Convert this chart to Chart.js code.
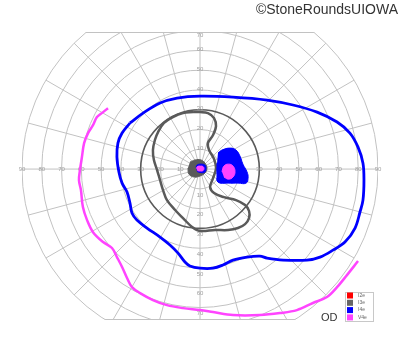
<!DOCTYPE html>
<html>
<head>
<title>Goldmann Visual Field OD</title>
<script src="https://cdn.jsdelivr.net/npm/chart.js"></script>
<style>
  body { margin: 0; background: #fff; }
</style>
</head>
<body>
<canvas id="fieldChart" width="400" height="352"></canvas>
<script>
// isopters in degrees of eccentricity: x = + right, y = + up
const v4eOuter = [[-46.5,30.8],[-49.0,28.8],[-52.1,26.3],[-54.1,22.2],[-56.6,18.2],[-58.6,13.1],[-59.7,6.1],[-60.7,-0.5],[-61.2,-5.6],[-60.2,-10.6],[-59.2,-19.2],[-57.1,-25.8],[-54.1,-31.9],[-49.0,-36.9],[-44.5,-39.9],[-42.0,-44.5],[-39.4,-49.5],[-36.9,-55.1],[-34.4,-59.7],[-30.3,-62.7],[-23.8,-66.2],[-16.7,-68.8],[-8.6,-70.3],[0,-71.3],[6.6,-72.3],[16.7,-73.8],[30.3,-73.8],[40.4,-72.8],[49.0,-71.3],[57.1,-67.7],[64.2,-64.7],[69.3,-59.7],[74.3,-53.6],[79.9,-46.5]];

const i4eOuter = [[-35.4,23.3],[-28.8,28.3],[-20.2,33.4],[-11.6,35.9],[0,36.9],[16.7,36.4],[33.9,34.9],[47.0,32.4],[59.2,28.8],[69.3,23.8],[75.8,18.2],[79.9,11.1],[82.4,3.0],[82.9,-5.6],[82.4,-15.7],[80.9,-21.7],[78.4,-29.8],[73.3,-36.9],[67.2,-41.0],[60.7,-44.5],[54.1,-46.0],[42.0,-46.0],[33.9,-45.0],[30.3,-44.0],[23.8,-44.5],[16.7,-46.0],[11.6,-48.5],[6.6,-50.1],[0,-50.1],[-5.1,-49.0],[-7.6,-47.0],[-11.1,-42.5],[-15.2,-38.4],[-20.2,-34.4],[-26.8,-29.8],[-31.9,-25.8],[-34.4,-22.2],[-35.4,-17.2],[-36.9,-11.6],[-39.4,-7.1],[-41.0,-1.5],[-42.0,6.1],[-41.5,13.1],[-39.4,18.2],[-35.4,23.3]];

const i3eOuter = [[-3.5,28.8],[0,28.8],[4.0,28.3],[7.1,25.8],[8.1,21.7],[6.6,17.2],[4.0,13.1],[4.6,9.6],[7.1,5.1],[8.1,0.5],[6.6,-4.6],[5.1,-9.1],[7.1,-12.1],[12.1,-14.2],[18.2,-15.7],[22.8,-18.2],[24.8,-21.2],[24.8,-24.8],[22.8,-27.8],[19.2,-29.8],[14.2,-30.8],[7.6,-30.8],[0,-31.3],[-4.0,-29.3],[-8.6,-24.8],[-12.6,-20.7],[-16.7,-15.7],[-18.7,-10.6],[-20.2,-5.6],[-21.7,-0.5],[-23.3,4.6],[-23.8,9.6],[-22.8,14.7],[-21.2,18.7],[-18.2,23.3],[-13.7,26.3],[-8.6,28.3],[-3.5,28.8]];

const i3eCentral = [[-5.1,3.5],[-2.5,4.6],[0.5,4.6],[2.5,3.0],[3.5,0.5],[2.5,-2.0],[0,-3.5],[-3.0,-4.0],[-5.6,-2.5],[-6.1,0.5]];
const i4eCentral = [[-2.0,0.5],[-1.5,2.0],[0.5,2.5],[2.5,2.0],[3.0,0.5],[2.5,-1.5],[0.5,-1.8],[-1.5,-1.2]];
const v4eCentral = [[-1.8,0.3],[-1.3,1.3],[0.3,1.5],[1.5,1.3],[2.0,0.3],[1.5,-0.8],[0.3,-1.0],[-1.3,-0.8]];

const i4eSpot = [[9.1,8.1],[11.1,9.6],[15.2,10.6],[18.2,9.6],[20.2,6.6],[21.7,2.5],[23.8,-1.5],[24.3,-4.6],[23.3,-7.1],[19.2,-7.1],[14.2,-7.1],[9.1,-6.6],[8.6,-3.0],[8.6,3.0]];
const v4eSpot = [[11.1,-1.3],[12.1,1.5],[14.4,2.5],[16.7,1.5],[17.7,-1.3],[16.7,-4.0],[14.4,-5.1],[12.1,-4.0]];

const ringValues = [10, 20, 30, 40, 50, 60, 70, 80, 90];
const spokeAngles = [0, 15, 30, 45, 60, 75, 90, 105, 120, 135, 150, 165, 180, 195, 210, 225, 240, 255, 270, 285, 300, 315, 330, 345];
const hTickLabels = [10, 20, 30, 40, 50, 60, 70, 80, 90];
const vTickLabels = [10, 20, 30, 40, 50, 60, 70];

const legendLabels = ['I2e', 'I3e', 'I4e', 'V4e'];
const legendColors = ['#ff0000', '#666666', '#0000ff', '#ff44ff'];

const toXY = pts => pts.map(p => ({x: p[0], y: p[1]}));

function isopter(pts, color, width, order) {
    return { data: toXY(pts), borderColor: color, borderWidth: width, fill: false, tension: 0.35, pointRadius: 0, order: order };
}
function spot(pts, color, order) {
    return { data: toXY(pts), borderColor: color, backgroundColor: color, borderWidth: 1, fill: 'shape', tension: 0.45, pointRadius: 0, order: order };
}

const polarGrid = {
    id: 'polarGrid',
    beforeDatasetsDraw(chart) {
        const {ctx, chartArea: area, scales: {x, y}} = chart;
        const cx = x.getPixelForValue(0);
        const cy = y.getPixelForValue(0);
        const rad = d => x.getPixelForValue(d) - cx;
        const rMax = rad(90);

        ctx.save();
        ctx.beginPath();
        ctx.rect(area.left, area.top, area.right - area.left, area.bottom - area.top);
        ctx.clip();
        ctx.lineWidth = 1;
        ctx.strokeStyle = '#c2c2c2';
        spokeAngles.forEach(a => {
            const t = a * Math.PI / 180;
            ctx.beginPath();
            ctx.moveTo(cx, cy);
            ctx.lineTo(cx + rMax * Math.cos(t), cy - rMax * Math.sin(t));
            ctx.stroke();
        });
        ringValues.forEach(v => {
            ctx.beginPath();
            ctx.arc(cx, cy, rad(v), 0, Math.PI * 2);
            ctx.strokeStyle = v === 30 ? '#5a5a5a' : '#c2c2c2';
            ctx.lineWidth = v === 30 ? 1.6 : 1;
            ctx.stroke();
        });
        // flat top and bottom edges of the field
        ctx.beginPath();
        ctx.arc(cx, cy, rMax, 0, Math.PI * 2);
        ctx.clip();
        ctx.strokeStyle = '#c2c2c2';
        ctx.lineWidth = 1;
        ctx.beginPath();
        ctx.moveTo(area.left, area.top + 0.5);
        ctx.lineTo(area.right, area.top + 0.5);
        ctx.moveTo(area.left, area.bottom - 0.5);
        ctx.lineTo(area.right, area.bottom - 0.5);
        ctx.stroke();
        ctx.restore();

        ctx.save();
        ctx.font = '6px "Liberation Sans", Arial, sans-serif';
        ctx.fillStyle = '#a0a0a0';
        ctx.textAlign = 'center';
        ctx.textBaseline = 'middle';
        hTickLabels.forEach(v => {
            ctx.fillText(String(v), cx - rad(v), cy);
            ctx.fillText(String(v), cx + rad(v), cy);
        });
        vTickLabels.forEach(v => {
            ctx.fillText(String(v), cx, Math.max(cy - rad(v) - 1, area.top + 3));
            ctx.fillText(String(v), cx, cy + rad(v) + 6);
        });
        ctx.restore();
    },
    afterDraw(chart) {
        const ctx = chart.ctx;
        ctx.save();
        ctx.fillStyle = '#333';
        ctx.font = '14px "Liberation Sans", Arial, sans-serif';
        ctx.textAlign = 'right';
        ctx.textBaseline = 'alphabetic';
        ctx.fillText('\u00A9StoneRoundsUIOWA', 398, 14);

        ctx.font = '11px "Liberation Sans", Arial, sans-serif';
        ctx.textAlign = 'left';
        ctx.textBaseline = 'middle';
        ctx.fillText('OD', 321, 318);

        // legend box
        ctx.strokeStyle = '#c8c8c8';
        ctx.lineWidth = 1;
        ctx.strokeRect(345.5, 292.5, 28, 29);
        ctx.font = '5px "Liberation Sans", Arial, sans-serif';
        legendLabels.forEach((lbl, i) => {
            const yy = 295.5 + i * 7.3;
            ctx.fillStyle = legendColors[i];
            ctx.fillRect(347, yy - 3, 6, 6);
            ctx.fillStyle = '#666';
            ctx.fillText(lbl, 358, yy);
        });
        ctx.restore();
    }
};

new Chart(document.getElementById('fieldChart'), {
    type: 'line',
    data: {
        datasets: [
            isopter(v4eOuter, '#ff44ff', 2.5, 8),
            isopter(i4eOuter, '#0000ff', 2.8, 7),
            isopter(i3eOuter, '#5a5a5a', 2.5, 6),
            spot(i3eCentral, '#5a5a5a', 5),
            spot(i4eCentral, '#0000ff', 4),
            spot(v4eCentral, '#ff44ff', 3),
            spot(i4eSpot, '#0000ff', 2),
            spot(v4eSpot, '#ff44ff', 1)
        ]
    },
    options: {
        responsive: false,
        animation: false,
        layout: { padding: { left: 22, right: 22, top: 32, bottom: 32 } },
        scales: {
            x: { type: 'linear', min: -90, max: 90, display: false },
            y: { type: 'linear', min: -76.3, max: 69.3, display: false }
        },
        plugins: {
            legend: { display: false },
            tooltip: { enabled: false }
        }
    },
    plugins: [polarGrid]
});
</script>
</body>
</html>
